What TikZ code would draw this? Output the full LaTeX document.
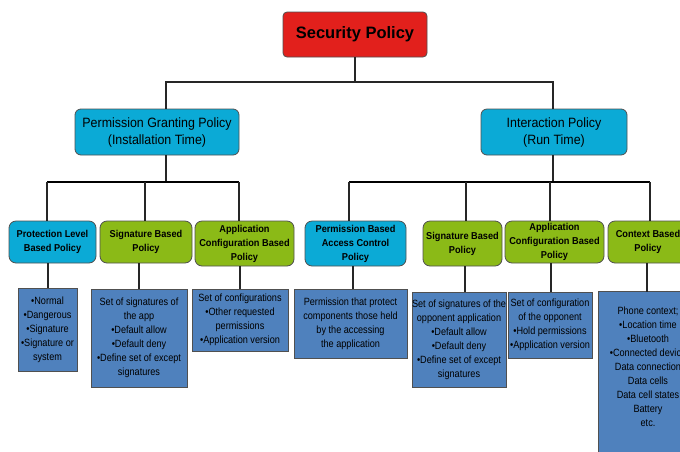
\documentclass[tikz,border=0pt]{standalone}
\usepackage{fontspec}
\setmainfont{Liberation Sans}
\newfontfamily\narrowfont[FakeStretch=0.92]{Liberation Sans}
\newfontfamily\leaffont[FakeStretch=0.87]{Liberation Sans}
\usetikzlibrary{backgrounds}
\definecolor{rootred}{HTML}{E2201C}
\definecolor{lvlcyan}{HTML}{0BAAD6}
\definecolor{lvlgreen}{HTML}{8BBA17}
\definecolor{leafblue}{HTML}{4F81BD}
\definecolor{edgegrey}{HTML}{505050}
\definecolor{conncol}{HTML}{262626}
\tikzset{
  rootbox/.style={draw=edgegrey, line width=0.8pt, fill=rootred, rounded corners=4pt,
    minimum width=144, minimum height=45, inner sep=0pt, align=center,
    font=\fontsize{16.5}{20}\selectfont\bfseries},
  midbox/.style={draw=edgegrey, line width=0.8pt, fill=lvlcyan, rounded corners=6pt,
    minimum height=46, inner sep=0pt, align=center,
    font=\narrowfont\fontsize{13.5}{17}\selectfont},
  lthree/.style={draw=edgegrey, line width=0.8pt, rounded corners=7pt,
    inner sep=0pt, align=center,
    font=\narrowfont\fontsize{10}{14}\selectfont\bfseries},
  cyanbox/.style={lthree, fill=lvlcyan},
  greenbox/.style={lthree, fill=lvlgreen},
  leafbox/.style={draw=edgegrey, line width=0.8pt, fill=leafblue, inner sep=0pt,
    align=center, font=\leaffont\fontsize{10.5}{14}\selectfont},
  conn/.style={draw=conncol, line width=1.1pt},
  bus/.style={draw=black, line width=1.6pt},
}
\begin{document}
\begin{tikzpicture}[x=1pt,y=-1pt]
\useasboundingbox (0,0) rectangle (680,451);
\clip (0,0) rectangle (680,451);
% level 1 and 2
\node[rootbox] (root) at (355,34.5) {Security Policy};
\node[midbox, minimum width=164] (pgp) at (157,132) {Permission Granting Policy\\(Installation Time)};
\node[midbox, minimum width=146] (ip) at (554,132) {Interaction Policy\\(Run Time)};
% level 3
\node[cyanbox, minimum width=87, minimum height=42] (pl) at (52.5,242) {Protection Level\\Based Policy};
\node[greenbox, minimum width=92, minimum height=42] (sigA) at (146,242) {Signature Based\\Policy};
\node[greenbox, minimum width=99, minimum height=45] (acA) at (244.5,243.5) {Application\\Configuration Based\\Policy};
\node[cyanbox, minimum width=101, minimum height=45] (pbac) at (355.5,243.5) {Permission Based\\Access Control\\Policy};
\node[greenbox, minimum width=79, minimum height=45] (sigB) at (462.5,243.5) {Signature Based\\Policy};
\node[greenbox, minimum width=99, minimum height=42] (acB) at (554.5,242) {Application\\Configuration Based\\Policy};
\node[greenbox, minimum width=80, minimum height=42] (ctx) at (648,242) {Context Based\\Policy};
% leaves
\node[leafbox, minimum width=59, minimum height=83] (lfA) at (47.5,329.5) {•Normal\\•Dangerous\\•Signature\\•Signature or\\system};
\node[leafbox, minimum width=96, minimum height=98] (lfB) at (139,338) {Set of signatures of\\the app\\•Default allow\\•Default deny\\•Define set of except\\signatures};
\node[leafbox, minimum width=96, minimum height=62] (lfC) at (240,320) {Set of configurations\\•Other requested\\permissions\\•Application version};
\node[leafbox, minimum width=113, minimum height=69] (lfD) at (350.5,323.5) {Permission that protect\\components those held\\by the accessing\\the application};
\node[leafbox, minimum width=94, minimum height=95] (lfE) at (459,339.5) {Set of signatures of the\\opponent application\\•Default allow\\•Default deny\\•Define set of except\\signatures};
\node[leafbox, minimum width=84, minimum height=66] (lfF) at (550,325) {Set of configuration\\of the opponent\\•Hold permissions\\•Application version};
\node[leafbox, draw=none, fill=none, minimum width=98, minimum height=150] (lfG) at (648,367) {Phone context;\\•Location time\\•Bluetooth\\•Connected device\\Data connection\\Data cells\\Data cell states\\Battery\\etc.};
\begin{scope}[on background layer]
\fill[leafblue, draw=edgegrey, line width=0.8pt] (lfG.north west) rectangle ([yshift=-40pt]lfG.south east);
\end{scope}
% connectors level 1 -> 2
\coordinate (busTL) at (166,82);
\coordinate (busTR) at (553,82);
\draw[conn] (root.south) -- (root.south |- busTL);
\draw[conn] (pgp.north -| busTL) -- (busTL) -- (busTR) -- (ip.north -| busTR);
% connectors level 2 -> 3
\coordinate (busLL) at (47,182);
\coordinate (busLR) at (239,182);
\coordinate (busRL) at (349,182);
\coordinate (busRR) at (650,182);
\draw[conn] (pgp.south -| busTL) -- (busTL |- busLL);
\draw[conn] (ip.south -| busTR) -- (busTR |- busRL);
\draw[bus] (busLL) -- (busLR);
\draw[bus] (busRL) -- (busRR);
\draw[conn] (busLL) -- (busLL |- pl.north);
\draw[conn] (145,182) -- (sigA.north -| 145,0);
\draw[conn] (busLR) -- (busLR |- acA.north);
\draw[conn] (busRL) -- (busRL |- pbac.north);
\draw[conn] (466,182) -- (sigB.north -| 466,0);
\draw[conn] (550,182) -- (acB.north -| 550,0);
\draw[conn] (busRR) -- (busRR |- ctx.north);
% connectors level 3 -> leaves
\draw[conn] (pl.south -| 48,0) -- (lfA.north -| 48,0);
\draw[conn] (sigA.south -| 139,0) -- (lfB.north -| 139,0);
\draw[conn] (acA.south -| 240,0) -- (lfC.north -| 240,0);
\draw[conn] (pbac.south -| 353,0) -- (lfD.north -| 353,0);
\draw[conn] (sigB.south -| 465,0) -- (lfE.north -| 465,0);
\draw[conn] (acB.south -| 551,0) -- (lfF.north -| 551,0);
\draw[conn] (ctx.south -| 647,0) -- (lfG.north -| 647,0);
\end{tikzpicture}
\end{document}
